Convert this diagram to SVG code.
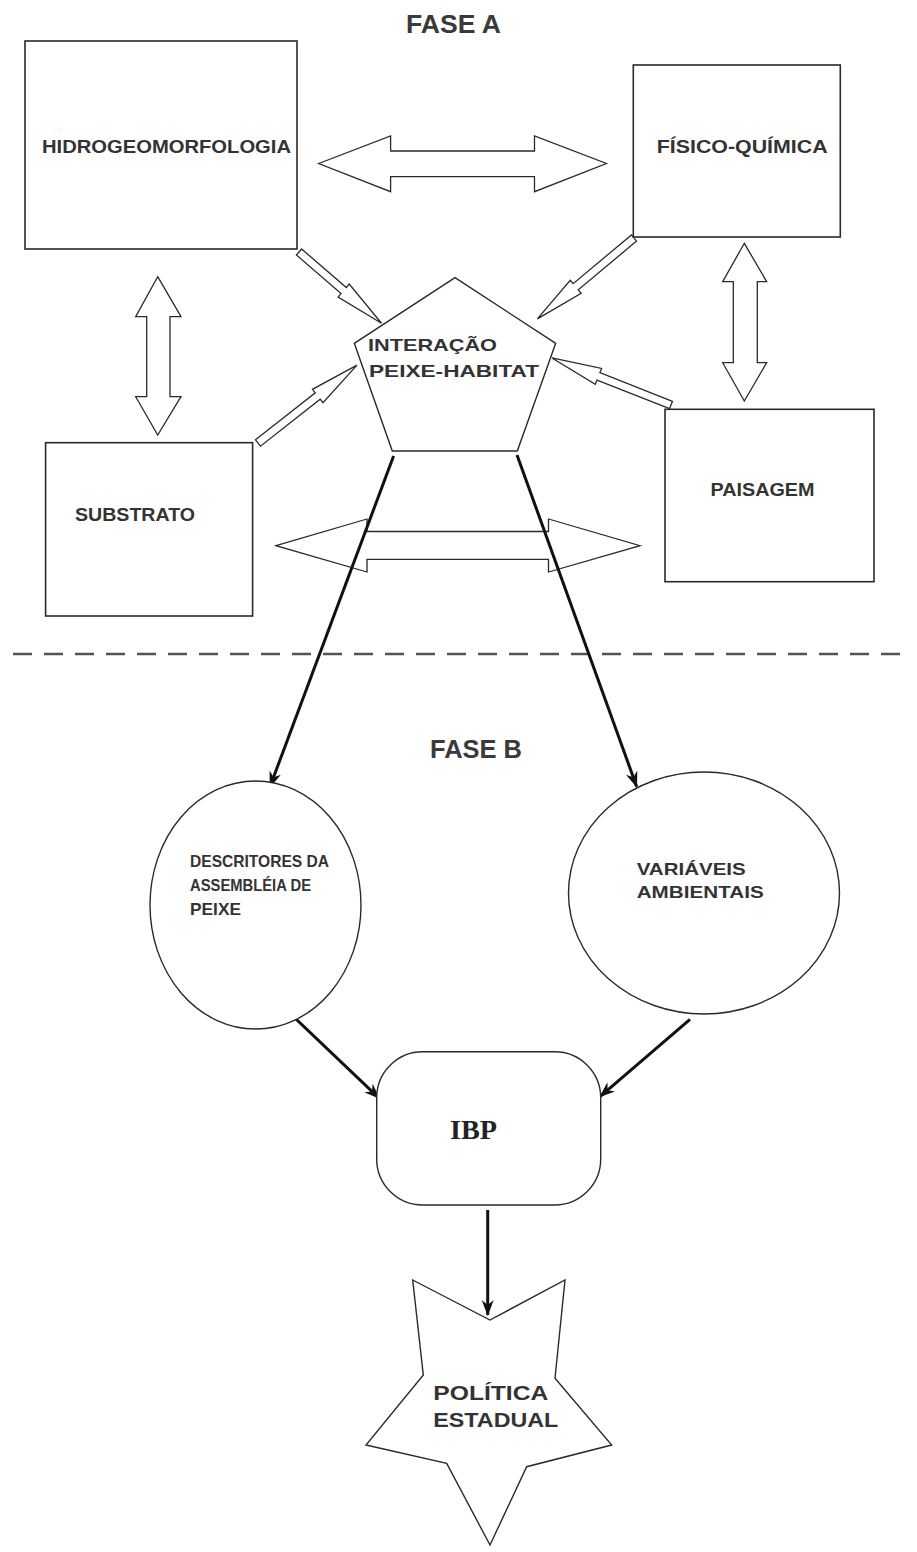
<svg xmlns="http://www.w3.org/2000/svg" width="917" height="1552" viewBox="0 0 917 1552">
<style>
.box{fill:#fff;stroke:#2a2a2a;stroke-width:1.6}
.shape{fill:#fff;stroke:#2a2a2a;stroke-width:1.4}
.hol{fill:#fff;stroke:#2a2a2a;stroke-width:1.3;stroke-linejoin:miter}
.lbl{font-family:"Liberation Sans",Arial,sans-serif;font-weight:bold;fill:#333}
.title{font-family:"Liberation Sans",Arial,sans-serif;font-weight:bold;fill:#3a3a3a;font-size:25px}
.thick{stroke:#111;stroke-width:3;fill:none}
.dash{stroke:#555;stroke-width:2.6;stroke-dasharray:19 12;fill:none}
</style>
<defs>
<marker id="ah" markerUnits="userSpaceOnUse" viewBox="0 0 16 12" refX="15" refY="6" markerWidth="16" markerHeight="12" orient="auto">
<path d="M0,0 L16,6 L0,12 L5,6 Z" fill="#111"/>
</marker>
</defs>

<text class="title" x="406" y="33" textLength="95" lengthAdjust="spacingAndGlyphs">FASE A</text>
<text class="title" x="430" y="758" textLength="92" lengthAdjust="spacingAndGlyphs">FASE B</text>

<g id="connectors">
<polygon class="hol" points="318.7,163.5 390.6,136 390.6,151 534.5,151 534.5,136 606.4,163.5 534.5,191.7 534.5,176.7 390.6,176.7 390.6,191.7"/>
<polygon class="hol" points="157.7,276.7 181,316.7 170,316.7 170,396.7 181,396.7 157.7,435 135.7,396.7 146.7,396.7 146.7,316.7 135.7,316.7"/>
<polygon class="hol" points="744.3,243.3 766.7,281.7 757.3,281.7 757.3,362.7 766.7,362.7 744.3,401 722.7,362.7 733.3,362.7 733.3,281.7 722.7,281.7"/>
<polygon class="hol" points="276,545.7 367,519 367,531.5 548.5,531.5 548.5,519 640,545.7 548.5,572 548.5,559.3 367,559.3 367,572"/>
<path class="hol" transform="translate(299,252) rotate(40.8)" d="M0,-4 H59 V-8.5 L109,0 L59,8.5 V4 H0 Z"/>
<path class="hol" transform="translate(634,238) rotate(140.1)" d="M0,-4 H76 V-8.5 L126,0 L76,8.5 V4 H0 Z"/>
<path class="hol" transform="translate(258,443) rotate(-38.2)" d="M0,-4 H76 V-8.5 L126,0 L76,8.5 V4 H0 Z"/>
<path class="hol" transform="translate(671,405) rotate(-158.45)" d="M0,-4 H78 V-8.5 L128,0 L78,8.5 V4 H0 Z"/>
<line class="dash" x1="13" y1="654" x2="910" y2="654"/>
<line class="thick" x1="393.6" y1="456" x2="270" y2="786.7" marker-end="url(#ah)"/>
<line class="thick" x1="517" y1="455" x2="636.7" y2="786.7" marker-end="url(#ah)"/>
<line class="thick" x1="291.7" y1="1015" x2="379.3" y2="1098.3" marker-end="url(#ah)"/>
<line class="thick" x1="690" y1="1019.3" x2="600" y2="1096.7" marker-end="url(#ah)"/>
<line class="thick" x1="487.7" y1="1210" x2="487.7" y2="1315" marker-end="url(#ah)"/>
</g>

<g id="hidrogeomorfologia">
<rect class="box" x="25" y="41" width="272" height="208"/>
<text class="lbl" x="42" y="153" font-size="18" textLength="249" lengthAdjust="spacingAndGlyphs">HIDROGEOMORFOLOGIA</text>
</g>
<g id="fisico-quimica">
<rect class="box" x="633.3" y="65" width="207" height="172"/>
<text class="lbl" x="656.7" y="153" font-size="18" textLength="171" lengthAdjust="spacingAndGlyphs">FÍSICO-QUÍMICA</text>
</g>
<g id="substrato">
<rect class="box" x="45.6" y="442.7" width="207" height="173.3"/>
<text class="lbl" x="75" y="521" font-size="18" textLength="120" lengthAdjust="spacingAndGlyphs">SUBSTRATO</text>
</g>
<g id="paisagem">
<rect class="box" x="665" y="409.3" width="209" height="172.4"/>
<text class="lbl" x="710.5" y="495.5" font-size="18" textLength="104" lengthAdjust="spacingAndGlyphs">PAISAGEM</text>
</g>
<g id="interacao">
<polygon class="shape" points="455,277.7 555.7,343.3 517.3,451 392.3,451 354.3,343.3"/>
<text class="lbl" x="368" y="351" font-size="17" textLength="129" lengthAdjust="spacingAndGlyphs">INTERAÇÃO</text>
<text class="lbl" x="369" y="377" font-size="17" textLength="170" lengthAdjust="spacingAndGlyphs">PEIXE-HABITAT</text>
</g>
<g id="descritores">
<ellipse class="shape" cx="255.5" cy="905" rx="105.5" ry="124"/>
<text class="lbl" x="190" y="867" font-size="16.5" textLength="139" lengthAdjust="spacingAndGlyphs">DESCRITORES DA</text>
<text class="lbl" x="190" y="891" font-size="16.5" textLength="121" lengthAdjust="spacingAndGlyphs">ASSEMBLÉIA DE</text>
<text class="lbl" x="190" y="915" font-size="16.5" textLength="51" lengthAdjust="spacingAndGlyphs">PEIXE</text>
</g>
<g id="variaveis">
<ellipse class="shape" cx="704" cy="893" rx="135.5" ry="121"/>
<text class="lbl" x="636.7" y="875" font-size="16.5" textLength="109" lengthAdjust="spacingAndGlyphs">VARIÁVEIS</text>
<text class="lbl" x="636.7" y="898.3" font-size="16.5" textLength="127" lengthAdjust="spacingAndGlyphs">AMBIENTAIS</text>
</g>
<g id="ibp">
<rect class="shape" x="376.7" y="1051.7" width="224" height="153.3" rx="46" ry="46"/>
<text x="450" y="1139" font-family="'Liberation Serif','Times New Roman',serif" font-weight="bold" font-size="27" fill="#222" textLength="47" lengthAdjust="spacingAndGlyphs">IBP</text>
</g>
<g id="politica">
<polygon class="shape" points="412.7,1280 490,1320 565,1280 555,1378.3 611.7,1445 526.7,1466.7 490,1545 446.7,1463.3 366,1445 423.3,1375"/>
<text class="lbl" x="433.3" y="1400" font-size="21" fill="#2a2a2a" textLength="115" lengthAdjust="spacingAndGlyphs">POLÍTICA</text>
<text class="lbl" x="433.3" y="1426.7" font-size="21" fill="#2a2a2a" textLength="125" lengthAdjust="spacingAndGlyphs">ESTADUAL</text>
</g>
</svg>
